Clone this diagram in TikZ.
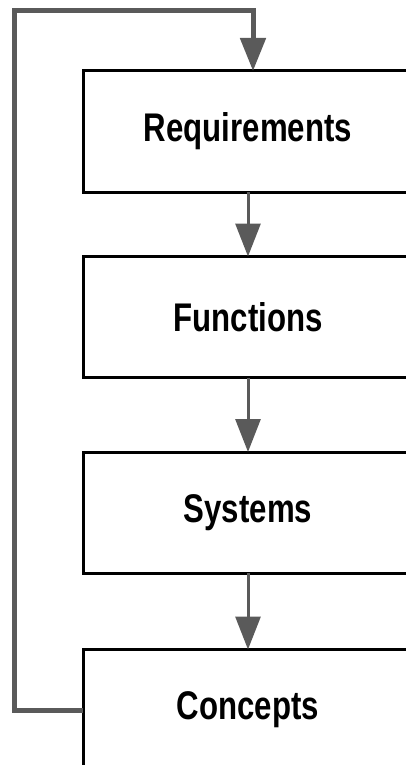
\documentclass[tikz,border=0pt]{standalone}
\usepackage{fontspec}
\setmainfont{Liberation Sans}
\usetikzlibrary{arrows.meta}
\definecolor{linegray}{RGB}{90,90,90}
\newcommand{\boxtext}[1]{\scalebox{0.78}[1]{\fontsize{40}{40}\selectfont\bfseries #1}}
\tikzset{
  stagebox/.style={draw=black, line width=3pt, fill=white, minimum width=330pt,
    minimum height=121pt, inner sep=0pt, outer sep=0pt},
  flowarrow/.style={draw=linegray, line width=3pt,
    -{Triangle[width=25pt,length=33pt]}},
  looparrow/.style={draw=linegray, line width=5pt,
    -{Triangle[width=25pt,length=33pt]}},
}
\begin{document}
\begin{tikzpicture}[x=1pt,y=-1pt]
\useasboundingbox (0,0) rectangle (406,765);
\clip (0,0) rectangle (406,765);
\node[stagebox] (req) at (248,131.5) {\boxtext{Requirements}};
\node[stagebox] (fun) at (248,317) {\boxtext{Functions}};
\node[stagebox] (sys) at (248,512.5) {\boxtext{Systems}};
\node[stagebox] (con) at (248,710) {\boxtext{Concepts}};
\draw[flowarrow] (req.south) -- (fun.north);
\draw[flowarrow] (fun.south) -- (sys.north);
\draw[flowarrow] (sys.south) -- (con.north);
\coordinate (lt) at (14,11);
\coordinate (rt) at (253,11);
\draw[looparrow, line join=miter] (con.west) -| (lt) -- (rt) -- (rt |- req.north);
\end{tikzpicture}
\end{document}
